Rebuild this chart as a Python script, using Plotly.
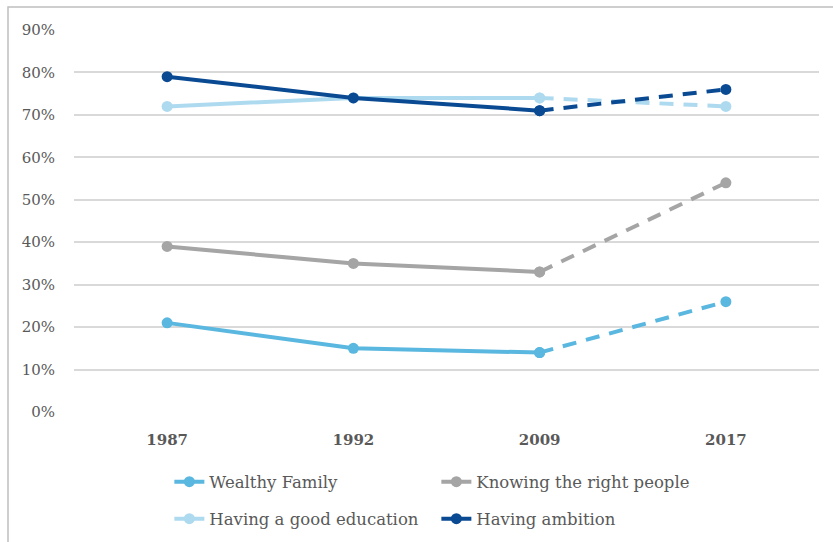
import plotly.graph_objects as go

# Survey years and share of respondents citing each factor (fraction)
years = ["1987", "1992", "2009", "2017"]
wealthy_family = [0.21, 0.15, 0.14, 0.26]
knowing_people = [0.39, 0.35, 0.33, 0.54]
good_education = [0.72, 0.74, 0.74, 0.72]
ambition = [0.79, 0.74, 0.71, 0.76]

series = [
    ("Wealthy Family", wealthy_family, "#5AB7DF", "legend"),
    ("Knowing the right people", knowing_people, "#A5A5A5", "legend"),
    ("Having a good education", good_education, "#AEDAF0", "legend2"),
    ("Having ambition", ambition, "#0A4A93", "legend2"),
]

FONT = "DejaVu Serif"
TEXT = "#595959"

fig = go.Figure()
for name, vals, color, leg in series:
    # measured years: solid line
    fig.add_trace(go.Scatter(
        x=years[:3], y=vals[:3], name=name, mode="lines+markers",
        line=dict(color=color, width=4), marker=dict(color=color, size=11),
        legend=leg, hoverinfo="skip",
    ))
    # latest period: dashed line
    fig.add_trace(go.Scatter(
        x=years[2:], y=vals[2:], name=name, mode="lines+markers",
        line=dict(color=color, width=4, dash="14px,10px"),
        marker=dict(color=color, size=11),
        legend=leg, showlegend=False, hoverinfo="skip",
    ))

legend_style = dict(
    orientation="h", xanchor="left", yanchor="middle", x=0.128,
    yref="container",
    entrywidth=222, entrywidthmode="pixels",
    font=dict(family=FONT, size=16.5, color=TEXT),
    bgcolor="rgba(0,0,0,0)", itemwidth=30,
)

fig.update_layout(
    width=833, height=542,
    margin=dict(l=74, r=14, t=30, b=130, autoexpand=False),
    paper_bgcolor="white", plot_bgcolor="white",
    legend=dict(legend_style, y=1 - 482 / 542),
    legend2=dict(legend_style, y=1 - 519 / 542),
    xaxis=dict(
        type="category", range=[-0.5, 3.5],
        showgrid=False, zeroline=False, showline=False,
        tickfont=dict(family=FONT, size=15, color=TEXT, weight="bold"),
        ticklabelstandoff=17, fixedrange=True,
    ),
    yaxis=dict(
        range=[0, 0.9], tickvals=[i / 10 for i in range(10)], tickformat=".0%",
        showgrid=True, gridcolor="#D9D9D9", gridwidth=1.5, zeroline=False,
        showline=False, tickfont=dict(family=FONT, size=15, color=TEXT),
        ticklabelstandoff=18, fixedrange=True,
    ),
    shapes=[dict(
        type="rect", xref="paper", yref="paper",
        x0=-0.0886, x1=2, y0=-2, y1=1.0602,
        line=dict(color="#BFBFBF", width=1.5), fillcolor="rgba(0,0,0,0)",
        layer="below",
    )],
)

fig.write_html("out.html")
